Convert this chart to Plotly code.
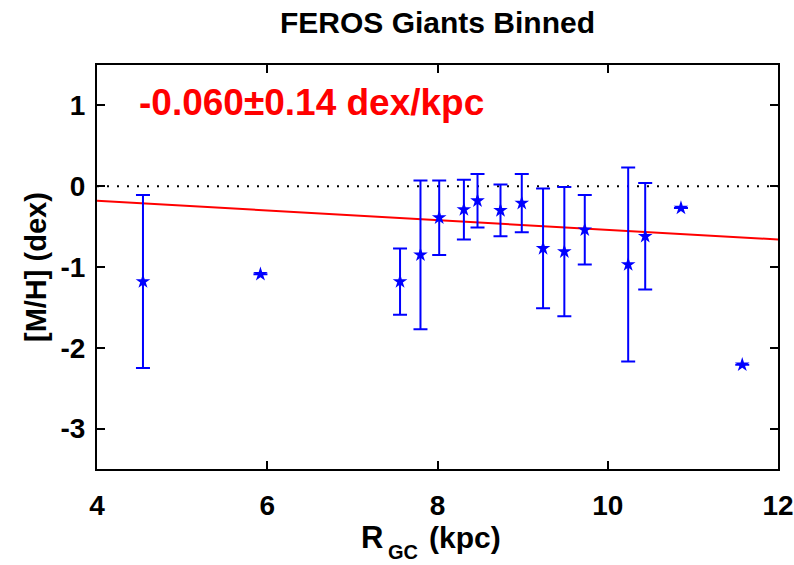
import plotly.graph_objects as go

# ---- data ----
r_gc = [4.54, 5.92, 7.56, 7.80, 8.02, 8.31, 8.47, 8.74, 8.99, 9.24, 9.49, 9.73, 10.24, 10.44, 10.86, 11.58]
m_h = [-1.18, -1.09, -1.18, -0.85, -0.39, -0.29, -0.18, -0.30, -0.21, -0.77, -0.81, -0.54, -0.97, -0.62, -0.27, -2.21]
m_h_err = [1.07, None, 0.41, 0.92, 0.46, 0.37, 0.33, 0.32, 0.36, 0.74, 0.80, 0.43, 1.20, 0.66, None, None]
fit_slope = -0.060
fit_intercept = 0.06
fit_label = "-0.060±0.14 dex/kpc"
x_range = [4, 12]
y_range = [-3.5, 1.5]
x_ticks = [4, 6, 8, 10, 12]
y_ticks = [-3, -2, -1, 0, 1]
y_ticktext = [str(v) for v in y_ticks]

FONT = "Liberation Sans, Arial, Helvetica, sans-serif"

fig = go.Figure()

# zero reference line (dotted)
fig.add_trace(go.Scatter(
    x=x_range, y=[0, 0], mode="lines",
    line=dict(color="black", width=2, dash="2px,8px"),
    hoverinfo="skip", showlegend=False))

# linear fit
fit_y = [fit_intercept + fit_slope * xv for xv in x_range]
fig.add_trace(go.Scatter(
    x=x_range, y=fit_y, mode="lines",
    line=dict(color="#ff0000", width=2),
    showlegend=False))

# binned data
fig.add_trace(go.Scatter(
    x=r_gc, y=m_h, mode="markers",
    marker=dict(symbol="star", size=11, color="#0000ff", line=dict(width=0)),
    error_y=dict(type="data", array=m_h_err, symmetric=True,
                 color="#0000ff", thickness=2, width=7),
    showlegend=False))

axis_common = dict(ticks="inside", ticklen=8, tickwidth=1.5, tickcolor="black",
                   showline=True, linecolor="black", linewidth=2, mirror="ticks",
                   showgrid=False, zeroline=False, automargin=False,
                   tickfont=dict(size=28, family=FONT, weight="bold", color="black"))

fig.update_layout(
    width=794, height=565,
    margin=dict(l=97, r=16, t=65, b=96),
    paper_bgcolor="white", plot_bgcolor="white",
    font=dict(family=FONT, color="black"),
    title=dict(text="FEROS Giants Binned", x=0.5, xref="paper",
               y=1 - 22 / 565, yref="container", yanchor="middle",
               font=dict(size=30, family=FONT, color="black", weight="bold")),
    xaxis=dict(range=x_range, tickvals=x_ticks, ticklabelstandoff=10, **axis_common),
    yaxis=dict(range=y_range, tickvals=y_ticks, ticktext=y_ticktext,
               ticklabelstandoff=4, **axis_common),
    annotations=[
        dict(text=fit_label, x=4.47, y=1.03, xref="x", yref="y",
             xanchor="left", yanchor="middle", showarrow=False,
             font=dict(size=37, color="#ff0000", family=FONT, weight="bold")),
        dict(text="[M/H] (dex)", x=0, xref="paper", xshift=-61, y=0.5, yref="paper",
             xanchor="center", yanchor="middle", textangle=-90, showarrow=False,
             font=dict(size=29, family=FONT, weight="bold", color="black")),
        # x-axis title: R, subscript GC, (kpc)
        dict(text="R", x=(385 - 97) / 681, xref="paper", y=0, yref="paper",
             yshift=-(537 - 469), xanchor="right", yanchor="middle", showarrow=False,
             font=dict(size=31, family=FONT, weight="bold", color="black")),
        dict(text="GC", x=(386 - 97) / 681, xref="paper", y=0, yref="paper",
             yshift=-(552 - 469), xanchor="left", yanchor="middle", showarrow=False,
             font=dict(size=20, family=FONT, weight="bold", color="black")),
        dict(text="(kpc)", x=(427 - 97) / 681, xref="paper", y=0, yref="paper",
             yshift=-(537 - 469), xanchor="left", yanchor="middle", showarrow=False,
             font=dict(size=30, family=FONT, weight="bold", color="black")),
    ],
)

fig.write_html("out.html")
